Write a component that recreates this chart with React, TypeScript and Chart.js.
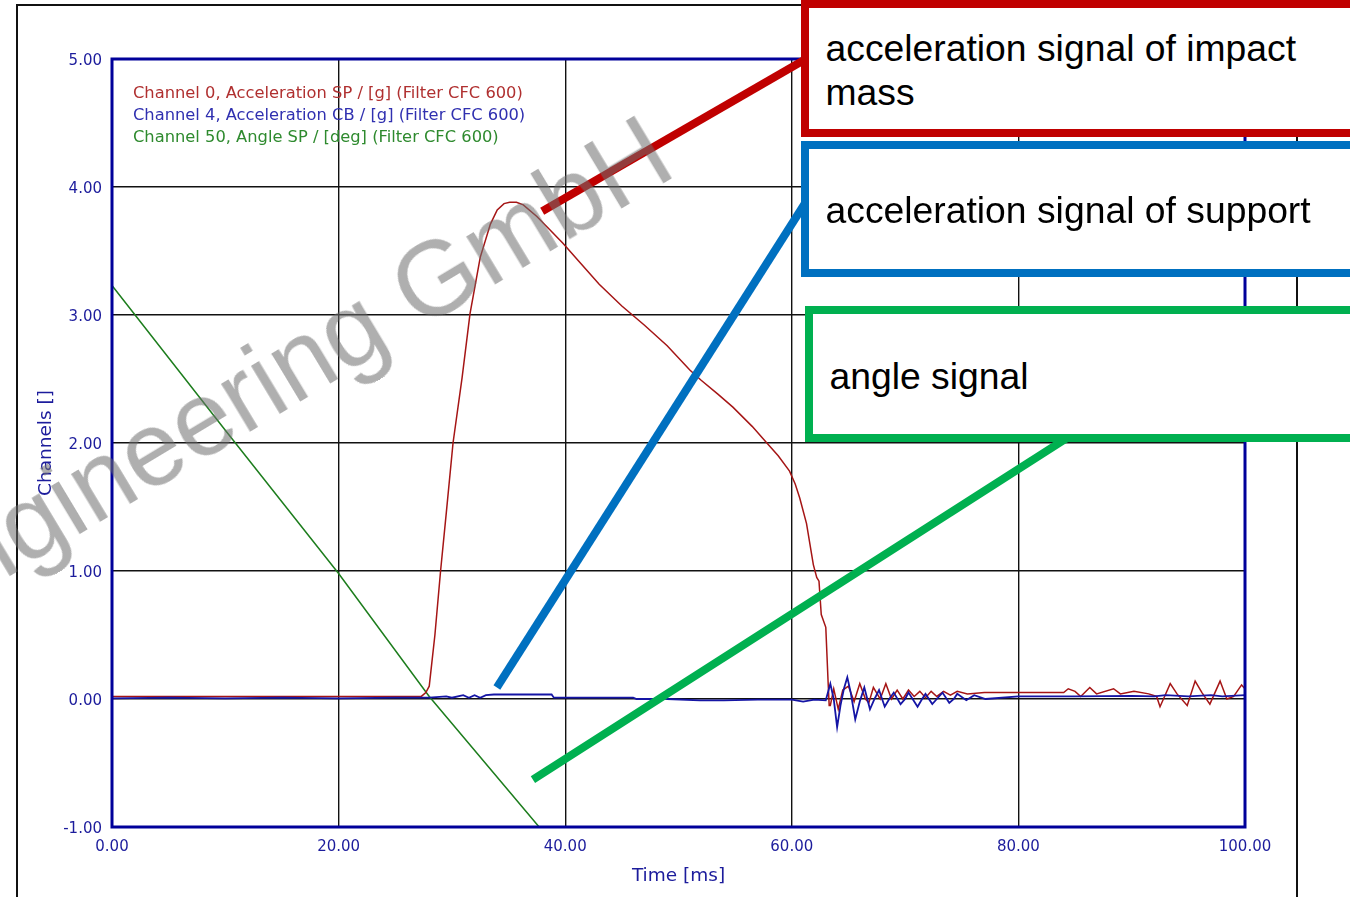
import React, { useEffect, useRef } from "react";
import { Chart, registerables } from "chart.js";

Chart.register(...registerables);

// ---------- data ----------
const xTickValues = [0, 20, 40, 60, 80, 100];
const yTickValues = [-1, 0, 1, 2, 3, 4, 5];

const seriesLabels = [
  "Channel 0, Acceleration SP / [g] (Filter CFC 600)",
  "Channel 4, Acceleration CB / [g] (Filter CFC 600)",
  "Channel 50, Angle SP / [deg] (Filter CFC 600)",
];

// Channel 0 – acceleration of impact mass [g]
const ch0Time = [0, 27.3, 27.7, 28.0, 28.5, 29.0, 29.5, 30.1, 30.9, 31.6, 32.5, 33.4, 34.0, 34.6, 35.1, 35.7, 36.3, 37.5, 38.6, 39.8, 41.3, 43.0, 45.0, 47.0, 49.0, 51.0, 52.0, 53.5, 54.8, 56.5, 57.8, 58.8, 59.8, 60.3, 60.7, 61.3, 61.9, 62.2, 62.4, 62.6, 63.0, 63.2, 63.3, 63.4, 63.7, 64.1, 64.5, 65.0, 65.5, 66.0, 66.5, 66.8, 67.2, 67.8, 68.3, 68.8, 69.3, 69.8, 70.3, 70.8, 71.3, 71.8, 72.3, 72.8, 73.4, 74.0, 74.6, 75.5, 77.0, 79.6, 84.0, 84.4, 85.0, 85.5, 86.3, 86.9, 88.4, 89.0, 90.2, 91.5, 92.2, 92.5, 92.9, 93.4, 94.0, 94.9, 95.6, 96.2, 96.9, 97.8, 98.4, 99.0, 99.7, 100];
const ch0Value = [0.02, 0.02, 0.05, 0.1, 0.5, 1.0, 1.45, 2.0, 2.51, 3.01, 3.45, 3.71, 3.82, 3.87, 3.88, 3.88, 3.86, 3.77, 3.67, 3.56, 3.41, 3.24, 3.07, 2.92, 2.76, 2.57, 2.49, 2.38, 2.28, 2.13, 2.0, 1.9, 1.78, 1.68, 1.57, 1.37, 1.05, 0.95, 0.92, 0.66, 0.56, 0.14, -0.05, -0.05, 0.08, -0.08, 0.07, 0.1, -0.02, 0.12, 0.0, -0.03, 0.09, 0.0, 0.12, 0.0, 0.07, 0.0, 0.07, 0.02, 0.06, 0.01, 0.06, 0.02, 0.06, 0.03, 0.06, 0.04, 0.05, 0.05, 0.05, 0.08, 0.06, 0.02, 0.09, 0.04, 0.08, 0.04, 0.06, 0.04, 0.02, -0.06, 0.02, 0.12, 0.04, -0.05, 0.14, 0.05, -0.04, 0.14, 0.0, 0.02, 0.11, 0.08];

// Channel 4 – acceleration of support [g]
const ch4Time = [0, 5, 10, 15, 20, 25, 28, 29.5, 30, 31, 31.5, 32, 32.5, 33, 33.7, 38.8, 39, 46, 46.3, 48, 48.3, 49, 51.9, 54, 57, 60, 61, 62, 63.0, 63.4, 63.7, 64.0, 64.3, 64.6, 64.9, 65.2, 65.6, 66.0, 66.4, 66.9, 67.3, 67.7, 68.2, 68.6, 69.0, 69.6, 70.0, 70.3, 71.1, 71.5, 71.8, 72.4, 72.8, 73.3, 73.9, 74.3, 74.6, 75.4, 76.1, 77.1, 80, 85, 90, 92, 93, 95, 97, 98, 100];
const ch4Value = [0.005, 0.01, 0.005, 0.01, 0.005, 0.01, 0.01, 0.02, 0.01, 0.03, 0.01, 0.03, 0.01, 0.03, 0.035, 0.035, 0.01, 0.01, 0.0, 0.0, 0.015, 0.0, -0.01, -0.01, -0.005, -0.005, -0.02, -0.005, -0.01, 0.12, 0.0, -0.22, -0.05, 0.08, 0.17, 0.05, -0.16, -0.02, 0.09, -0.08, 0.0, 0.07, -0.06, 0.0, 0.05, -0.04, 0.0, 0.05, -0.06, 0.0, 0.04, -0.04, 0.0, 0.05, -0.03, 0.0, 0.04, -0.01, 0.03, 0.0, 0.02, 0.02, 0.025, 0.02, 0.03, 0.02, 0.03, 0.02, 0.03];

// Channel 50 – angle [deg]
const ch50Time = [0, 10, 20, 28, 37.7, 40];
const ch50Value = [3.23, 2.1, 0.98, 0.02, -1.0, -1.26];

// callout leader lines (data coordinates: start at the curve, end under the box)
const calloutStartX = [37.97, 33.97, 37.15];
const calloutStartY = [3.81, 0.09, -0.63];
const calloutEndX = [61.78, 61.77, 84.65];
const calloutEndY = [5.027, 3.957, 2.059];
const calloutLines = [
  ["acceleration signal of impact", "mass"],
  ["acceleration signal of support"],
  ["angle signal"],
];

// ---------- styles ----------
const lineColors = ["#a51515", "#1515a5", "#1d7d1d"];
const legendColors = ["#b03030", "#3030b0", "#2e8a2e"];
const calloutColors = ["#c00000", "#0070c0", "#00b050"];
const axisTextColor = "#1c1c9c";
const boxLayout = [
  { left: 801, top: 0, height: 137, textLeft: 16.5, textTop: 18.4 },
  { left: 801, top: 141, height: 136, textLeft: 16.5, textTop: 38.8 },
  { left: 805, top: 306, height: 136, textLeft: 16.5, textTop: 40.4 },
];

const toPoints = (t: number[], v: number[]) => t.map((x, i) => ({ x, y: v[i] }));

const overlayPlugin = {
  id: "overlay",
  afterDatasetsDraw(chart: any) {
    const { ctx, chartArea: a } = chart;
    ctx.save();
    ctx.strokeStyle = "#00009a";
    ctx.lineWidth = 3;
    ctx.strokeRect(a.left, a.top, a.right - a.left, a.bottom - a.top);
    ctx.font = "16.3px 'DejaVu Sans'";
    ctx.textBaseline = "middle";
    ctx.textAlign = "left";
    chart.data.datasets.forEach((ds: any, i: number) => {
      ctx.fillStyle = legendColors[i];
      ctx.fillText(ds.label, a.left + 21, a.top + 35 + i * 22);
    });
    ctx.restore();
  },
  afterDraw(chart: any) {
    const { ctx, scales } = chart;
    ctx.save();
    ctx.lineWidth = 8;
    ctx.lineCap = "butt";
    for (let i = 0; i < calloutStartX.length; i++) {
      ctx.strokeStyle = calloutColors[i];
      ctx.beginPath();
      ctx.moveTo(scales.x.getPixelForValue(calloutStartX[i]), scales.y.getPixelForValue(calloutStartY[i]));
      ctx.lineTo(scales.x.getPixelForValue(calloutEndX[i]), scales.y.getPixelForValue(calloutEndY[i]));
      ctx.stroke();
    }
    ctx.restore();
  },
};

export default function App() {
  const ref = useRef<HTMLCanvasElement>(null);
  useEffect(() => {
    const chart = new Chart(ref.current as HTMLCanvasElement, {
      type: "line",
      data: {
        datasets: [
          { label: seriesLabels[0], data: toPoints(ch0Time, ch0Value), borderColor: lineColors[0], borderWidth: 1.5, pointRadius: 0, tension: 0, order: 1 },
          { label: seriesLabels[1], data: toPoints(ch4Time, ch4Value), borderColor: lineColors[1], borderWidth: 1.8, pointRadius: 0, tension: 0, order: 0 },
          { label: seriesLabels[2], data: toPoints(ch50Time, ch50Value), borderColor: lineColors[2], borderWidth: 1.5, pointRadius: 0, tension: 0, order: 2 },
        ],
      },
      options: {
        animation: false,
        responsive: false,
        devicePixelRatio: 1,
        parsing: false,
        layout: { padding: { top: 59, right: 105, left: 0, bottom: 0 } },
        plugins: { legend: { display: false }, tooltip: { enabled: false } },
        scales: {
          x: {
            type: "linear",
            min: 0,
            max: 100,
            afterFit: (s: any) => { s.height = 70; },
            afterBuildTicks: (s: any) => { s.ticks = xTickValues.map((value) => ({ value })); },
            ticks: {
              callback: (v: any) => Number(v).toFixed(2),
              font: { family: "'DejaVu Sans'", size: 15 },
              color: axisTextColor,
              padding: 11,
              maxRotation: 0,
              autoSkip: false,
            },
            grid: { color: "#111", lineWidth: 1.4, drawTicks: false },
            border: { display: false },
            title: { display: true, text: "Time [ms]", font: { family: "'DejaVu Sans'", size: 18.5 }, color: axisTextColor, padding: { top: 0, bottom: 10 } },
          },
          y: {
            type: "linear",
            min: -1,
            max: 5,
            afterFit: (s: any) => { s.width = 112; },
            afterBuildTicks: (s: any) => { s.ticks = yTickValues.map((value) => ({ value })); },
            ticks: {
              callback: (v: any) => Number(v).toFixed(2),
              font: { family: "'DejaVu Sans'", size: 15 },
              color: axisTextColor,
              padding: 10,
              labelOffset: 2,
              autoSkip: false,
            },
            grid: { color: "#111", lineWidth: 1.4, drawTicks: false },
            border: { display: false },
            title: { display: true, text: "Channels []", font: { family: "'DejaVu Sans'", size: 18.5 }, color: axisTextColor, padding: { top: 35, bottom: 0 } },
          },
        },
      },
      plugins: [overlayPlugin],
    } as any);
    return () => chart.destroy();
  }, []);

  return (
    <div style={{ position: "absolute", left: 0, top: 0, width: 1350, height: 897, overflow: "hidden", background: "#fff" }}>
      <div style={{ position: "absolute", left: 16, top: 4, width: 1282, height: 1000, border: "2px solid #111", boxSizing: "border-box" }} />
      <canvas ref={ref} width={1350} height={897} style={{ position: "absolute", left: 0, top: 0, width: 1350, height: 897 }} />
      <div style={{ position: "absolute", left: 679, top: 174, width: 0, height: 0, pointerEvents: "none" }}>
        <div
          style={{
            position: "absolute",
            right: 0,
            top: -88.9,
            whiteSpace: "nowrap",
            font: "105px 'Liberation Sans', Arial, sans-serif",
            lineHeight: 1,
            color: "rgba(110,110,110,0.55)",
            transformOrigin: "right 88.9px",
            transform: "rotate(-31deg)",
          }}
        >
          Engineering GmbH
        </div>
      </div>
      {boxLayout.map((b, i) => (
        <div
          key={i}
          style={{
            position: "absolute",
            left: b.left,
            top: b.top,
            width: 600,
            height: b.height,
            border: `8px solid ${calloutColors[i]}`,
            boxSizing: "border-box",
            background: "#fff",
          }}
        >
          <div style={{ position: "absolute", left: b.textLeft, top: b.textTop, font: "37.3px 'Liberation Sans', Arial, sans-serif", lineHeight: "44px", color: "#000", whiteSpace: "nowrap" }}>
            {calloutLines[i].map((l, j) => (
              <div key={j}>{l}</div>
            ))}
          </div>
        </div>
      ))}
    </div>
  );
}
